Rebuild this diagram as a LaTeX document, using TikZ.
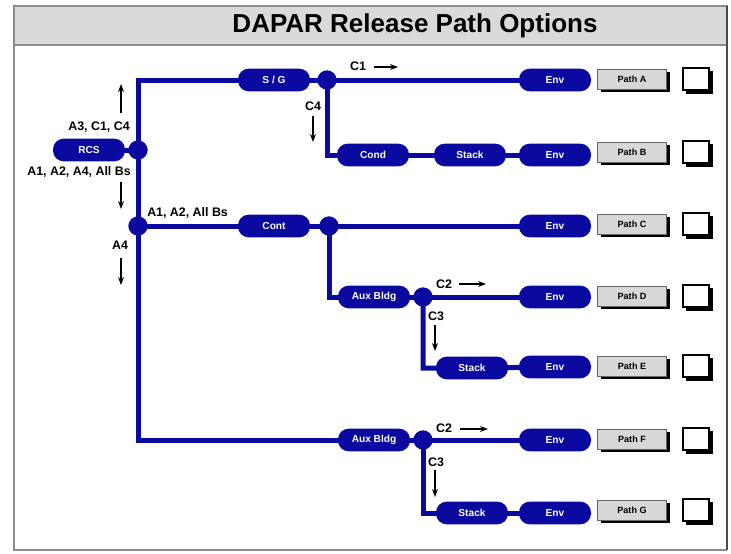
\documentclass[tikz,border=0pt]{standalone}
\usepackage{fontspec}
\setmainfont{Liberation Sans}
\usetikzlibrary{backgrounds,shadows,arrows.meta}
\definecolor{pblue}{RGB}{10,10,160}
\definecolor{tgray}{RGB}{218,218,218}
\definecolor{bgray}{RGB}{215,215,215}
\tikzset{
  pill/.style={fill=pblue,rounded corners=8pt,minimum width=54pt,minimum height=17pt,inner sep=0pt,text=white,font=\bfseries\fontsize{7.6}{8}\selectfont},
  junc/.style={circle,fill=pblue,minimum size=14.5pt,inner sep=0pt},
  wire/.style={draw=pblue,line width=3.75pt},
  pathbox/.style={fill=bgray,draw=black!60,line width=0.4pt,minimum width=51.75pt,minimum height=15pt,inner sep=0pt,font=\bfseries\fontsize{6.8}{8}\selectfont,drop shadow={shadow xshift=2.6pt,shadow yshift=-2.6pt,fill=black,opacity=1}},
  chk/.style={fill=white,draw=black,line width=1.5pt,minimum width=20pt,minimum height=17pt,inner sep=0pt,drop shadow={shadow xshift=2.4pt,shadow yshift=-2.4pt,fill=black,opacity=1}},
  lbl/.style={font=\bfseries\fontsize{9.3}{10}\selectfont,inner sep=0pt},
  arr/.style={-{Stealth[length=6pt,width=4.5pt]},line width=0.8pt,black},
}
\begin{document}
\begin{tikzpicture}[x=0.75pt,y=-0.75pt]
\useasboundingbox (0,0) rectangle (731,553);
\node[font=\bfseries\fontsize{19.5}{22}\selectfont,inner sep=0pt] (title) at (415,26) {DAPAR Release Path Options};

% nodes
\node[pill] (rcs) at (89,150) {RCS};
\node[junc] (j1) at (138,150) {};
\node[junc] (j2) at (138,226) {};
\node[pill] (sg) at (274,80) {S / G};
\node[junc] (jA) at (327,80) {};
\node[pill] (envA) at (555,80) {Env};
\node[pill] (cond) at (373,155) {Cond};
\node[pill] (stackB) at (470,155) {Stack};
\node[pill] (envB) at (555,155) {Env};
\node[pill] (cont) at (274,226) {Cont};
\node[junc] (jC) at (329,226) {};
\node[pill] (envC) at (555,226) {Env};
\node[pill] (ax1) at (374,297) {Aux Bldg};
\node[junc] (jD) at (423,297) {};
\node[pill] (envD) at (555,297) {Env};
\node[pill] (stackE) at (472,368) {Stack};
\node[pill] (envE) at (555,367) {Env};
\node[pill] (ax2) at (374,440) {Aux Bldg};
\node[junc] (jF) at (423,440) {};
\node[pill] (envF) at (555,440) {Env};
\node[pill] (stackG) at (472,513) {Stack};
\node[pill] (envG) at (555,513) {Env};

\foreach \r/\y in {A/79,B/152,C/224,D/296,E/366,F/439,G/510}{
  \node[pathbox] (p\r) at (632,\y) {Path \r};
  \node[chk] (c\r) at (696,\y) {};
}

% frame and wires
\begin{pgfonlayer}{background}
\fill[white] (0,0) rectangle (731,553);
\draw[fill=tgray,draw=black!45,line width=0.9pt] (14,6) rectangle (727,45);
\draw[draw=black!45,line width=0.9pt] (14,45) -- (14,550) -- (727,550);
\draw[draw=black!70,line width=2pt] (727,6) -- (727,550);
\draw[wire] (rcs.center) -- (j1.center);
\draw[wire] (sg.center) -| (j1.center) -- (j2.center) |- (ax2.center);
\draw[wire] (sg.center) -- (jA.center) -- (envA.center);
\draw[wire] (jA.center) |- (cond.center) -- (stackB.center) -- (envB.center);
\draw[wire] (j2.center) -- (cont.center) -- (jC.center) -- (envC.center);
\draw[wire] (jC.center) |- (ax1.center) -- (jD.center) -- (envD.center);
\draw[wire] (jD.center) |- (stackE.center) -- (envE.center);
\draw[wire] (ax2.center) -- (jF.center) -- (envF.center);
\draw[wire] (jF.center) |- (stackG.center) -- (envG.center);
\end{pgfonlayer}

% labels and arrows
\node[lbl,anchor=east] (l1) at (130,127) {A3, C1, C4};
\coordinate (u1) at (121,113); \coordinate (u2) at (121,84);
\draw[arr] (u1) -- (u2);
\node[lbl,anchor=east] (l2) at (131,172) {A1, A2, A4, All Bs};
\coordinate (d1) at (121,182); \coordinate (d2) at (121,209);
\draw[arr] (d1) -- (d2);
\node[lbl,anchor=west] (l3) at (147,213) {A1, A2, All Bs};
\node[lbl] (l4) at (120,245) {A4};
\coordinate (d3) at (121,258); \coordinate (d4) at (121,285);
\draw[arr] (d3) -- (d4);
\node[lbl] (c1) at (358,66) {C1};
\coordinate (r1) at (374,67); \coordinate (r2) at (398,67);
\draw[arr] (r1) -- (r2);
\node[lbl] (c4) at (313,106) {C4};
\coordinate (d5) at (313,116); \coordinate (d6) at (313,142);
\draw[arr] (d5) -- (d6);
\node[lbl] (c2a) at (444,284) {C2};
\coordinate (r3) at (459,284); \coordinate (r4) at (486,284);
\draw[arr] (r3) -- (r4);
\node[lbl] (c3a) at (436,316) {C3};
\coordinate (d7) at (435,325); \coordinate (d8) at (435,351);
\draw[arr] (d7) -- (d8);
\node[lbl] (c2b) at (444,428) {C2};
\coordinate (r5) at (460,429); \coordinate (r6) at (488,429);
\draw[arr] (r5) -- (r6);
\node[lbl] (c3b) at (436,462) {C3};
\coordinate (d9) at (435,470); \coordinate (d10) at (435,497);
\draw[arr] (d9) -- (d10);
\end{tikzpicture}
\end{document}
